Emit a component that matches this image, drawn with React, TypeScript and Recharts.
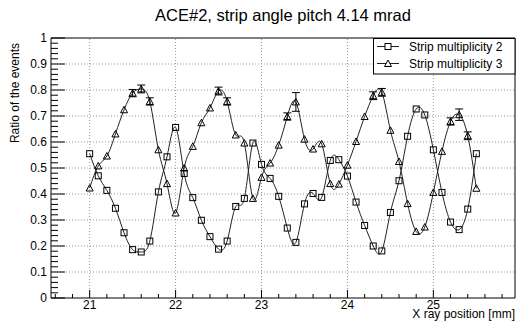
import React from 'react';
import { LineChart, Line, XAxis, YAxis, ReferenceLine, ReferenceArea, ErrorBar } from 'recharts';

const FONT = 'Liberation Sans, Arial, Helvetica, sans-serif';

const titleText = 'ACE#2, strip angle pitch 4.14 mrad';
const xTitle = 'X ray position [mm]';
const yTitle = 'Ratio of the events';
const seriesNames = ['Strip multiplicity 2', 'Strip multiplicity 3'];

const xPositions = [
  21.0, 21.1, 21.2, 21.3, 21.4, 21.5, 21.6, 21.7, 21.8, 21.9,
  22.0, 22.1, 22.2, 22.3, 22.4, 22.5, 22.6, 22.7, 22.8, 22.9,
  23.0, 23.1, 23.2, 23.3, 23.4, 23.5, 23.6, 23.7, 23.8, 23.9,
  24.0, 24.1, 24.2, 24.3, 24.4, 24.5, 24.6, 24.7, 24.8, 24.9,
  25.0, 25.1, 25.2, 25.3, 25.4, 25.5,
];

const mult2 = [
  0.555, 0.470, 0.414, 0.345, 0.251, 0.186, 0.177, 0.219, 0.408, 0.543,
  0.656, 0.479, 0.386, 0.299, 0.236, 0.188, 0.219, 0.352, 0.383, 0.596,
  0.514, 0.460, 0.391, 0.269, 0.214, 0.362, 0.402, 0.387, 0.529, 0.532,
  0.469, 0.369, 0.279, 0.200, 0.181, 0.329, 0.451, 0.622, 0.727, 0.704,
  0.570, 0.406, 0.292, 0.263, 0.342, 0.555,
];

const mult3 = [
  0.423, 0.508, 0.546, 0.631, 0.724, 0.788, 0.804, 0.756, 0.570, 0.440,
  0.327, 0.500, 0.583, 0.674, 0.731, 0.796, 0.756, 0.627, 0.596, 0.383,
  0.464, 0.519, 0.588, 0.698, 0.754, 0.611, 0.573, 0.593, 0.440, 0.438,
  0.511, 0.602, 0.698, 0.778, 0.791, 0.645, 0.525, 0.363, 0.256, 0.273,
  0.406, 0.564, 0.679, 0.705, 0.624, 0.422,
];

// statistical errors (0 = hidden inside the marker)
const err2 = [
  0, 0, 0, 0, 0, 0, 0, 0, 0, 0,
  0, 0, 0, 0, 0, 0, 0, 0, 0, 0,
  0, 0, 0, 0, 0, 0, 0, 0, 0, 0,
  0, 0, 0, 0, 0, 0, 0, 0, 0, 0,
  0, 0, 0, 0, 0, 0,
];

const err3 = [
  0, 0, 0, 0, 0, 0.014, 0.015, 0.014, 0, 0,
  0, 0, 0, 0, 0, 0.015, 0.014, 0, 0, 0,
  0, 0, 0, 0.014, 0.036, 0, 0, 0, 0, 0,
  0, 0, 0, 0.015, 0.015, 0, 0, 0, 0, 0,
  0, 0, 0.014, 0.022, 0.015, 0,
];

const xMajorTicks = [21, 22, 23, 24, 25];
const yMajorTicks = [0, 0.1, 0.2, 0.3, 0.4, 0.5, 0.6, 0.7, 0.8, 0.9, 1];
const xGridValues = [21, 22, 23, 24, 25];
const yGridValues = [0.1, 0.2, 0.3, 0.4, 0.5, 0.6, 0.7, 0.8, 0.9];
const xDomain: [number, number] = [20.55, 25.95];
const yDomain: [number, number] = [0, 1];

// minor tick positions (0.2 mm on x, 0.02 on y)
const xTicks = Array.from({ length: 27 }, (_, i) => Math.round((20.6 + i * 0.2) * 10) / 10);
const yTicks = Array.from({ length: 51 }, (_, i) => i / 50);

const data = xPositions.map((x, i) => ({
  x,
  m2: mult2[i],
  m3: mult3[i],
  e2: err2[i],
  e3: err3[i],
}));

const isMajorX = (v: number) => xMajorTicks.some((t) => Math.abs(t - v) < 1e-6);
const isMajorY = (v: number) => yMajorTicks.some((t) => Math.abs(t - v) < 1e-6);

const XTick = (props: any) => {
  const { x, y, payload } = props;
  const v = payload.value;
  const major = isMajorX(v);
  return (
    <g>
      <line x1={x} x2={x} y1={y} y2={y - (major ? 8 : 4)} stroke="#000" strokeWidth={1} />
      {major && (
        <text x={x} y={y + 11} textAnchor="middle" fontSize={12} fontFamily={FONT} fill="#000">
          {String(v)}
        </text>
      )}
    </g>
  );
};

const YTick = (props: any) => {
  const { x, y, payload } = props;
  const v = payload.value;
  const major = isMajorY(v);
  const label = String(Math.round(v * 10) / 10);
  return (
    <g>
      <line x1={x} x2={x + (major ? 14 : 7)} y1={y} y2={y} stroke="#000" strokeWidth={1} />
      {major && (
        <text x={x - 4} y={y} dy="0.36em" textAnchor="end" fontSize={12} fontFamily={FONT} fill="#000">
          {label}
        </text>
      )}
    </g>
  );
};

const SquareDot = (props: any) => {
  const { cx, cy, index } = props;
  if (cx == null || cy == null) return <g key={`s${index}`} />;
  return <rect key={`s${index}`} x={cx - 3} y={cy - 3} width={6} height={6} fill="none" stroke="#000" strokeWidth={1} />;
};

const TriangleDot = (props: any) => {
  const { cx, cy, index } = props;
  if (cx == null || cy == null) return <g key={`t${index}`} />;
  const p = `${cx - 3.5},${cy + 3} ${cx + 3.5},${cy + 3} ${cx},${cy - 3.5}`;
  return <polygon key={`t${index}`} points={p} fill="none" stroke="#000" strokeWidth={1} />;
};

export default function App() {
  return (
    <div style={{ position: 'absolute', left: 0, top: 0, width: 516, height: 326, background: '#fff' }}>
      <LineChart width={516} height={326} data={data} margin={{ top: 38, right: 1, bottom: 0, left: 0 }}>
        <XAxis
          dataKey="x"
          type="number"
          domain={xDomain}
          ticks={xTicks}
          interval={0}
          tick={XTick}
          tickSize={0}
          tickMargin={0}
          tickLine={false}
          axisLine={false}
          height={28}
          allowDataOverflow
        />
        <YAxis
          type="number"
          domain={yDomain}
          ticks={yTicks}
          interval={0}
          tick={YTick}
          tickSize={0}
          tickMargin={0}
          tickLine={false}
          axisLine={false}
          width={51}
          allowDataOverflow
        />
        {xGridValues.map((v) => (
          <ReferenceLine key={`gx${v}`} x={v} stroke="#999" strokeDasharray="1 2" strokeWidth={1} />
        ))}
        {yGridValues.map((v) => (
          <ReferenceLine key={`gy${v}`} y={v} stroke="#999" strokeDasharray="1 2" strokeWidth={1} />
        ))}
        <ReferenceArea x1={xDomain[0]} x2={xDomain[1]} y1={yDomain[0]} y2={yDomain[1]} fill="none" stroke="#000" strokeWidth={1} />
        <Line
          dataKey="m2"
          name={seriesNames[0]}
          type="natural"
          stroke="#222"
          strokeWidth={1}
          dot={SquareDot}
          activeDot={false}
          isAnimationActive={false}
        >
          <ErrorBar dataKey="e2" direction="y" width={4} stroke="#000" strokeWidth={1} />
        </Line>
        <Line
          dataKey="m3"
          name={seriesNames[1]}
          type="natural"
          stroke="#222"
          strokeWidth={1}
          dot={TriangleDot}
          activeDot={false}
          isAnimationActive={false}
        >
          <ErrorBar dataKey="e3" direction="y" width={4} stroke="#000" strokeWidth={1} />
        </Line>
      </LineChart>
      <svg
        width={516}
        height={326}
        style={{ position: 'absolute', left: 0, top: 0, pointerEvents: 'none' }}
      >
        <text x={283} y={21} textAnchor="middle" fontSize={16.5} fontFamily={FONT} fill="#000">
          {titleText}
        </text>
        <text x={515} y={318} textAnchor="end" fontSize={12} fontFamily={FONT} fill="#000">
          {xTitle}
        </text>
        <text
          x={19}
          y={43}
          transform="rotate(-90 19 43)"
          textAnchor="end"
          fontSize={12}
          fontFamily={FONT}
          fill="#000"
        >
          {yTitle}
        </text>
        <rect x={373.5} y={38.5} width={141.5} height={35.5} fill="#fff" stroke="#000" strokeWidth={1} />
        <line x1={377} x2={399} y1={46.5} y2={46.5} stroke="#222" strokeWidth={1} />
        <rect x={385} y={43.5} width={6} height={6} fill="#fff" stroke="#000" strokeWidth={1} />
        <text x={409} y={46.5} dy="0.36em" fontSize={12} fontFamily={FONT} fill="#000">
          {seriesNames[0]}
        </text>
        <line x1={377} x2={399} y1={63.5} y2={63.5} stroke="#222" strokeWidth={1} />
        <polygon points="384.5,66.5 391.5,66.5 388,60" fill="#fff" stroke="#000" strokeWidth={1} />
        <text x={409} y={63.5} dy="0.36em" fontSize={12} fontFamily={FONT} fill="#000">
          {seriesNames[1]}
        </text>
      </svg>
    </div>
  );
}
